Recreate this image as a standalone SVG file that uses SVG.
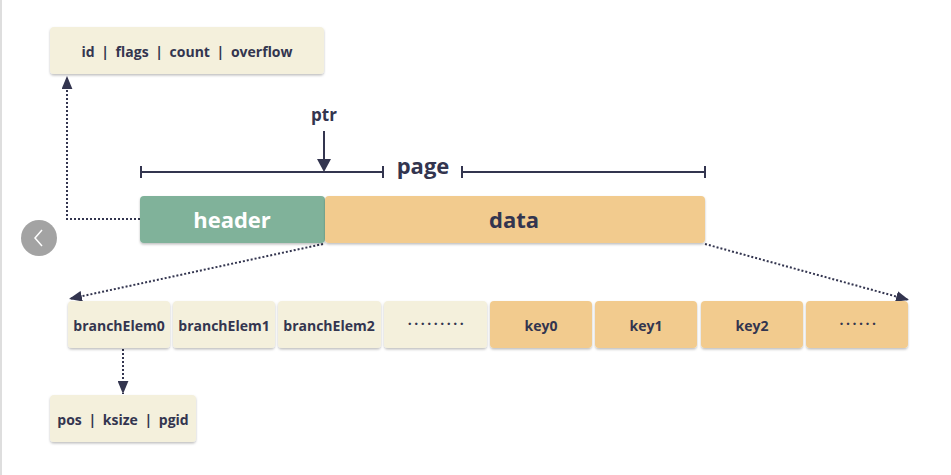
<svg xmlns="http://www.w3.org/2000/svg" width="951" height="475" viewBox="0 0 951 475">
<defs>
<style>
.t{font-family:"Open Sans","Lato","DejaVu Sans",sans-serif;font-weight:700;fill:#33354f;text-anchor:middle;dominant-baseline:central}
.s{font-size:14px}
.w{word-spacing:3px}
.cream{fill:#f4f0dc}
.org{fill:#f2cb8e}
.dot{fill:none;stroke:#33354f;stroke-width:2;stroke-dasharray:2 2}
.sol{fill:none;stroke:#33354f;stroke-width:2}
</style>
<filter id="sh" x="-10%" y="-10%" width="120%" height="130%">
<feDropShadow dx="0" dy="1.5" stdDeviation="1" flood-color="#000" flood-opacity="0.25"/>
</filter>
<marker id="ah" viewBox="0 0 12 10" refX="12" refY="5" markerWidth="13" markerHeight="11" markerUnits="userSpaceOnUse" orient="auto">
<path d="M0,0 L12,5 L0,10 z" fill="#33354f"/>
</marker>
</defs>
<rect x="0" y="0" width="951" height="475" fill="#fff"/>
<line x1="1" y1="0" x2="1" y2="475" stroke="#dedede" stroke-width="2"/>
<g id="nav">
<circle cx="39" cy="238" r="18" fill="#a3a3a3"/>
<path d="M42,230 L35,238 L42,246" fill="none" stroke="#fff" stroke-width="1.5"/>
</g>
<g id="connectors">
<path class="dot" d="M140,219 H67 V76" marker-end="url(#ah)"/>
<path class="dot" d="M323,244 L69,299" marker-end="url(#ah)"/>
<path class="dot" d="M705,244 L909,300" marker-end="url(#ah)"/>
<path class="dot" d="M123,349 V394" marker-end="url(#ah)"/>
<path class="sol" d="M324,131 V162"/>
<path d="M317,159 L324,172 L331,159 z" fill="#33354f"/>
</g>
<g id="ptr"><text class="t" x="324" y="114" style="font-size:17px">ptr</text></g>
<g id="page">
<path class="sol" d="M141,172 H383 M141,166 V178 M383,166 V178 M462,172 H705 M462,166 V178 M705,166 V178"/>
<text class="t" x="423" y="165" style="font-size:22px">page</text>
</g>
<g id="top-header">
<rect class="cream" x="50" y="27" width="274" height="47" rx="4" filter="url(#sh)"/>
<text class="t s w" x="187" y="51">id | flags | count | overflow</text>
</g>
<g id="header">
<rect x="140" y="196" width="185" height="47" rx="4" fill="#80b29a" filter="url(#sh)"/>
<text class="t" x="232" y="219" style="font-size:22px;fill:#fff">header</text>
</g>
<g id="data">
<rect class="org" x="325" y="196" width="380" height="47" rx="4" filter="url(#sh)"/>
<text class="t" x="514" y="219" style="font-size:22px">data</text>
</g>
<g id="branchElem0"><rect class="cream" x="68" y="301" width="102" height="47" rx="4" filter="url(#sh)"/><text class="t s" x="119" y="325">branchElem0</text></g>
<g id="branchElem1"><rect class="cream" x="173" y="301" width="102" height="47" rx="4" filter="url(#sh)"/><text class="t s" x="224" y="325">branchElem1</text></g>
<g id="branchElem2"><rect class="cream" x="278" y="301" width="103" height="47" rx="4" filter="url(#sh)"/><text class="t s" x="329" y="325">branchElem2</text></g>
<g id="branchDots"><rect class="cream" x="384" y="301" width="103" height="47" rx="4" filter="url(#sh)"/><text class="t s" x="437" y="323" style="letter-spacing:2.5px">·········</text></g>
<g id="key0"><rect class="org" x="490" y="301" width="102" height="47" rx="4" filter="url(#sh)"/><text class="t s" x="541" y="325">key0</text></g>
<g id="key1"><rect class="org" x="595" y="301" width="102" height="47" rx="4" filter="url(#sh)"/><text class="t s" x="646" y="325">key1</text></g>
<g id="key2"><rect class="org" x="701" y="301" width="102" height="47" rx="4" filter="url(#sh)"/><text class="t s" x="752" y="325">key2</text></g>
<g id="keyDots"><rect class="org" x="806" y="301" width="102" height="47" rx="4" filter="url(#sh)"/><text class="t s" x="859" y="323" style="letter-spacing:2.5px">······</text></g>
<g id="branchFields">
<rect class="cream" x="50" y="395" width="146" height="47" rx="4" filter="url(#sh)"/>
<text class="t s w" x="123" y="419">pos | ksize | pgid</text>
</g>
</svg>
